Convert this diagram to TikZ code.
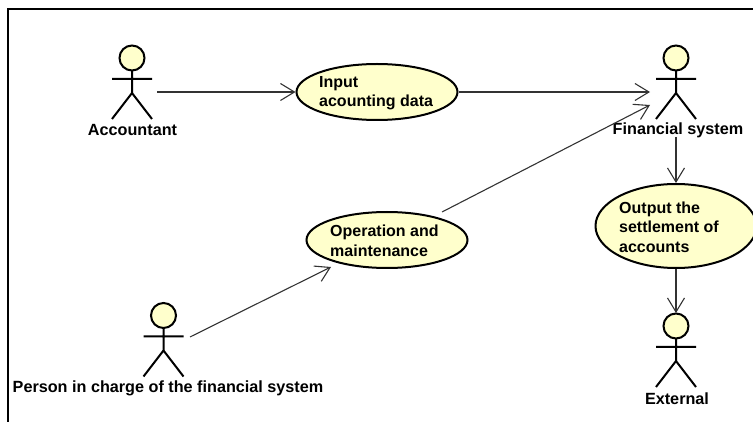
\documentclass[tikz,border=0pt]{standalone}
\usepackage{fontspec}
\setmainfont{Liberation Sans}
\usetikzlibrary{arrows.meta,shapes.geometric}
\definecolor{ucfill}{HTML}{FFFFCC}
\tikzset{
  usecase/.style={ellipse, draw, line width=2pt, fill=ucfill, inner sep=0pt},
  uctext/.style={anchor=west, align=left, inner sep=0pt, font=\fontsize{16}{19.5}\selectfont\bfseries},
  label/.style={font=\fontsize{16.2}{19}\selectfont\bfseries, inner sep=0pt},
  assoc/.style={draw=black!80, line width=1.1pt, -{Straight Barb[length=14pt,width=17pt]}},
  actor/.pic={
    \draw[line width=2pt, fill=ucfill] (0,0) circle (12.5);
    \draw[line width=2pt] (0,12.5) -- (0,35) (-20,21) -- (20,21) (-20,61) -- (0,35) -- (20,61);
  },
}
\begin{document}
\begin{tikzpicture}[x=1pt,y=-1pt]
  \useasboundingbox (0,0) rectangle (753,422);
  % Frame
  \draw[line width=2pt] (7.5,422) -- (7.5,9.5) -- (753,9.5);

  % Actors
  \pic at (132,58) {actor};
  \pic at (676,58) {actor};
  \pic at (163.5,315.5) {actor};
  \pic at (676,326) {actor};
  \node[label] (accountant) at (132.5,130) {Accountant};
  \node[label] (financial) at (678,130) {Financial system};
  \node[label] (person) at (168,388) {Person in charge of the financial system};
  \node[label] (external) at (677,398.5) {External};

  % Use cases
  \node[usecase, minimum width=161pt, minimum height=56pt] (input) at (377,92) {};
  \node[usecase, minimum width=161pt, minimum height=56pt] (operation) at (387,240) {};
  \node[usecase, minimum width=161pt, minimum height=84pt] (output) at (676,226) {};
  \node[uctext] (inputText) at (319,93) {Input\\acounting data};
  \node[uctext] (operationText) at (330,241) {Operation and\\maintenance};
  \node[uctext] (outputText) at (619,227) {Output the\\settlement of\\accounts};

  % Free ends of the associations
  \coordinate (accountantEnd) at (157,92);
  \coordinate (finA) at (650,92);
  \coordinate (finB) at (650,105);
  \coordinate (personEnd) at (190,337);
  \coordinate (opIn) at (331,267);
  \coordinate (opOut) at (442,212);
  \coordinate (finBottom) at (676,137);
  \coordinate (extTop) at (676,313);

  \draw[assoc] (accountantEnd) -- (input.west);
  \draw[assoc] (input.east) -- (finA);
  \draw[assoc] (personEnd) -- (opIn);
  \draw[assoc] (opOut) -- (finB);
  \draw[assoc] (finBottom) -- (output.north);
  \draw[assoc] (output.south) -- (extTop);
\end{tikzpicture}
\end{document}
